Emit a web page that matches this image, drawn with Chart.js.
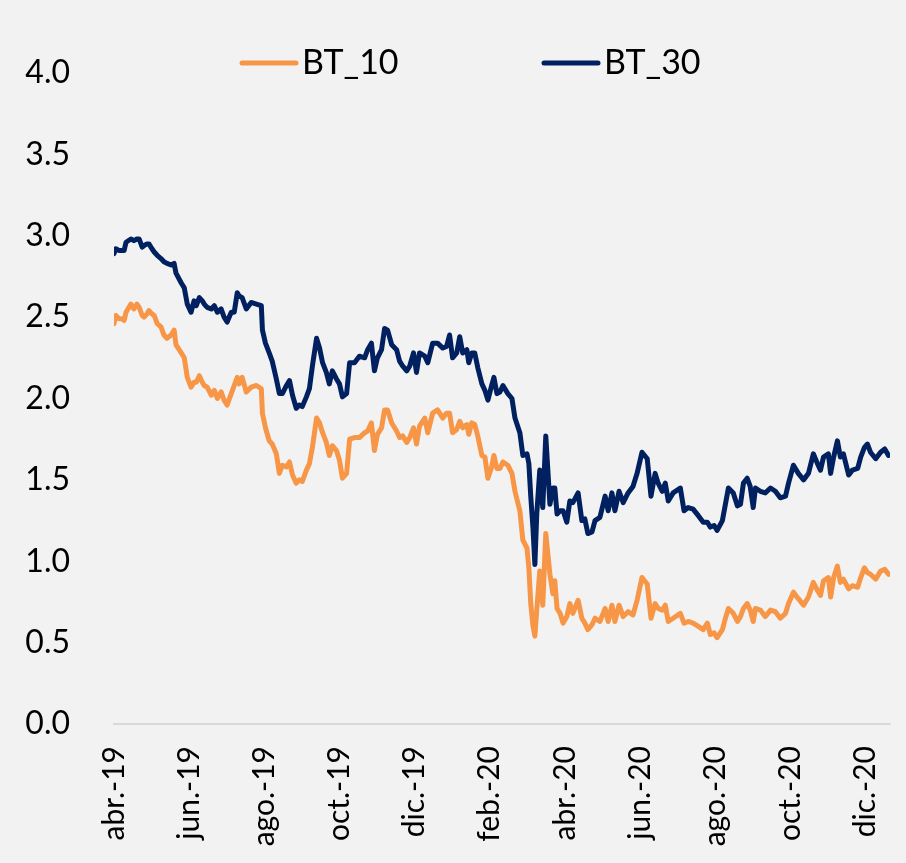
<!DOCTYPE html>
<html>
<head>
<meta charset="utf-8">
<script src="https://cdn.jsdelivr.net/npm/chart.js@4.4.1/dist/chart.umd.min.js"></script>
<style>
html,body{margin:0;padding:0;background:#f2f2f2}
#wrap{width:906px;height:863px}
</style>
</head>
<body>
<div id="wrap"><canvas id="myChart"></canvas></div>
<script>
// months since abr.-19
const meses=[0.00,0.05,0.13,0.21,0.27,0.32,0.45,0.53,0.61,0.67,0.75,0.80,0.88,0.93,1.01,1.07,1.15,1.25,1.33,1.41,
1.52,1.60,1.65,1.79,1.87,1.95,2.05,2.13,2.19,2.27,2.35,2.40,2.48,2.59,2.67,2.75,2.85,2.93,3.01,3.12,
3.20,3.28,3.33,3.41,3.52,3.65,3.79,3.92,3.95,4.03,4.13,4.21,4.32,4.40,4.48,4.59,4.67,4.75,4.85,4.93,
5.01,5.12,5.20,5.28,5.39,5.47,5.55,5.65,5.73,5.81,5.92,6.00,6.08,6.19,6.27,6.40,6.53,6.67,6.75,6.85,
6.93,7.01,7.12,7.20,7.28,7.39,7.52,7.60,7.68,7.79,7.87,7.97,8.05,8.13,8.27,8.35,8.48,8.61,8.75,8.85,
8.93,9.01,9.12,9.20,9.28,9.39,9.44,9.52,9.60,9.68,9.79,9.87,9.95,10.05,10.11,10.19,10.27,10.35,10.48,10.59,
10.67,10.80,10.88,10.99,11.04,11.09,11.15,11.20,11.25,11.33,11.41,11.49,11.60,11.68,11.73,11.79,11.87,11.95,12.05,12.13,
12.21,12.35,12.45,12.53,12.61,12.72,12.80,12.93,13.07,13.15,13.25,13.33,13.44,13.55,13.68,13.81,13.92,14.05,14.19,14.29,
14.40,14.48,14.59,14.67,14.75,14.88,15.07,15.17,15.28,15.41,15.55,15.68,15.79,15.87,15.97,16.05,16.19,16.27,16.35,16.48,
16.59,16.67,16.75,16.85,16.93,17.01,17.07,17.20,17.33,17.47,17.60,17.73,17.87,17.95,18.08,18.21,18.35,18.48,18.61,18.72,
18.80,18.88,19.01,19.07,19.15,19.25,19.33,19.41,19.55,19.65,19.79,19.87,19.97,20.05,20.13,20.27,20.40,20.51,20.61];

const bt10=[2.46,2.51,2.49,2.49,2.48,2.53,2.58,2.55,2.58,2.56,2.51,2.50,2.52,2.54,2.52,2.51,2.46,2.44,2.39,2.37,
2.39,2.42,2.33,2.28,2.25,2.13,2.07,2.10,2.10,2.14,2.10,2.08,2.07,2.02,2.05,2.00,2.04,1.99,1.96,2.03,
2.08,2.13,2.09,2.13,2.04,2.07,2.08,2.06,1.91,1.82,1.74,1.72,1.66,1.54,1.59,1.58,1.61,1.53,1.48,1.50,
1.49,1.56,1.60,1.70,1.88,1.85,1.79,1.73,1.65,1.71,1.68,1.62,1.51,1.54,1.75,1.76,1.76,1.79,1.80,1.85,
1.68,1.78,1.82,1.93,1.93,1.85,1.80,1.76,1.77,1.73,1.76,1.82,1.72,1.83,1.88,1.79,1.91,1.93,1.88,1.91,
1.91,1.79,1.81,1.86,1.82,1.84,1.78,1.85,1.84,1.77,1.65,1.64,1.51,1.58,1.65,1.57,1.57,1.61,1.59,1.54,
1.43,1.31,1.13,1.08,0.96,0.74,0.60,0.54,0.70,0.94,0.73,1.17,0.92,0.80,0.88,0.71,0.68,0.62,0.66,0.74,
0.68,0.76,0.65,0.62,0.58,0.61,0.65,0.63,0.71,0.63,0.73,0.63,0.73,0.66,0.69,0.67,0.76,0.90,0.86,0.65,
0.74,0.71,0.70,0.73,0.63,0.65,0.68,0.62,0.63,0.62,0.60,0.58,0.62,0.55,0.56,0.53,0.58,0.65,0.71,0.68,
0.63,0.66,0.71,0.74,0.70,0.63,0.71,0.70,0.66,0.70,0.69,0.65,0.68,0.74,0.81,0.77,0.73,0.78,0.87,0.82,
0.79,0.88,0.90,0.78,0.90,0.97,0.87,0.89,0.83,0.85,0.84,0.90,0.96,0.93,0.92,0.89,0.94,0.95,0.92];

const bt30=[2.89,2.92,2.91,2.91,2.91,2.96,2.98,2.97,2.98,2.98,2.93,2.94,2.95,2.95,2.92,2.90,2.88,2.86,2.84,2.83,
2.82,2.83,2.77,2.71,2.68,2.58,2.53,2.60,2.57,2.62,2.60,2.58,2.56,2.55,2.57,2.53,2.55,2.50,2.47,2.53,
2.53,2.65,2.63,2.62,2.55,2.59,2.58,2.57,2.42,2.34,2.28,2.23,2.12,2.03,2.03,2.08,2.11,2.02,1.94,1.96,
1.95,2.01,2.06,2.20,2.37,2.31,2.22,2.16,2.09,2.17,2.12,2.09,2.01,2.03,2.22,2.22,2.26,2.25,2.30,2.34,
2.17,2.25,2.30,2.43,2.42,2.33,2.30,2.23,2.20,2.17,2.20,2.28,2.16,2.28,2.26,2.22,2.34,2.34,2.31,2.32,
2.39,2.25,2.28,2.38,2.28,2.30,2.22,2.28,2.28,2.19,2.09,2.05,1.99,2.08,2.13,2.03,2.04,2.08,2.03,2.00,
1.88,1.79,1.65,1.66,1.60,1.40,1.20,0.98,1.29,1.56,1.33,1.77,1.35,1.45,1.45,1.29,1.31,1.31,1.24,1.37,
1.36,1.42,1.25,1.26,1.17,1.18,1.25,1.27,1.40,1.31,1.42,1.31,1.43,1.36,1.42,1.46,1.54,1.67,1.63,1.40,
1.54,1.48,1.43,1.48,1.37,1.42,1.45,1.31,1.33,1.32,1.28,1.24,1.24,1.21,1.22,1.19,1.25,1.35,1.45,1.42,
1.34,1.35,1.48,1.51,1.46,1.33,1.45,1.43,1.42,1.45,1.43,1.39,1.40,1.48,1.59,1.54,1.50,1.54,1.66,1.60,
1.56,1.64,1.66,1.54,1.64,1.74,1.64,1.66,1.53,1.56,1.57,1.64,1.70,1.72,1.67,1.63,1.67,1.69,1.65];

const etiquetas=['abr.-19','jun.-19','ago.-19','oct.-19','dic.-19','feb.-20','abr.-20','jun.-20','ago.-20','oct.-20','dic.-20'];
const nombres=['BT_10','BT_30'];
const colores=['#f79646','#002060'];

function puntos(vals){
  return vals.map((v,i)=>({x:meses[i],y:v}));
}

// legend drawn by hand to get the wide gap between items
const leyenda={
  id:'leyenda',
  afterDraw(chart){
    const ctx=chart.ctx;
    const left=chart.chartArea.left;
    const offs=[128,430];
    ctx.save();
    ctx.font='34px Lato';
    ctx.textBaseline='middle';
    chart.data.datasets.forEach((d,i)=>{
      const x=left+offs[i];
      ctx.strokeStyle=d.borderColor;
      ctx.lineWidth=5;
      ctx.lineCap='round';
      ctx.beginPath();
      ctx.moveTo(x,63);
      ctx.lineTo(x+54,63);
      ctx.stroke();
      ctx.fillStyle='#000';
      ctx.fillText(d.label,x+60,63);
    });
    ctx.restore();
  }
};

const ctx=document.getElementById('myChart').getContext('2d');
const myChart=new Chart(ctx,{
  type:'line',
  data:{
    datasets:[
      {label:nombres[0],data:puntos(bt10),borderColor:colores[0],backgroundColor:colores[0],
       borderWidth:5,pointRadius:0,borderJoinStyle:'round',borderCapStyle:'round',tension:0},
      {label:nombres[1],data:puntos(bt30),borderColor:colores[1],backgroundColor:colores[1],
       borderWidth:5,pointRadius:0,borderJoinStyle:'round',borderCapStyle:'round',tension:0}
    ]
  },
  options:{
    responsive:true,
    maintainAspectRatio:false,
    animation:false,
    layout:{padding:{top:73,left:22,right:0,bottom:0}},
    plugins:{legend:{display:false},tooltip:{enabled:false}},
    scales:{
      x:{
        type:'linear',
        min:0,
        max:20.65,
        grid:{display:false,drawTicks:false},
        border:{display:true,color:'#d9d9d9',width:2},
        afterFit:(s)=>{s.height=139;s.paddingRight=16;},
        ticks:{
          stepSize:2,
          includeBounds:false,
          autoSkip:false,
          maxRotation:90,
          minRotation:90,
          padding:22,
          color:'#000',
          font:{family:'Lato',size:30},
          callback:(v)=>v%2===0?etiquetas[v/2]:''
        }
      },
      y:{
        min:0,
        max:4,
        grid:{display:false,drawTicks:false},
        border:{display:false},
        afterFit:(s)=>{s.width=92;},
        ticks:{
          stepSize:0.5,
          padding:44,
          color:'#000',
          font:{family:'Lato',size:32},
          callback:(v)=>v.toFixed(1)
        }
      }
    }
  },
  plugins:[leyenda]
});
</script>
</body>
</html>
